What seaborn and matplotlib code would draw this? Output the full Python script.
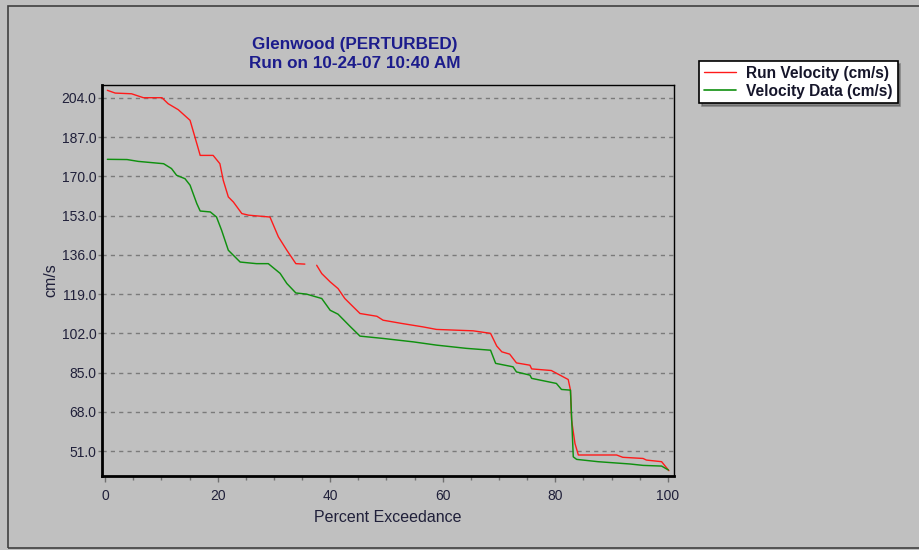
import numpy as np
import pandas as pd
import matplotlib
matplotlib.use("Agg")
import matplotlib.pyplot as plt
from matplotlib.lines import Line2D
from matplotlib.patches import Rectangle
from matplotlib.ticker import MultipleLocator, FormatStrFormatter
import seaborn as sns

title_lines = ["Glenwood (PERTURBED)", "Run on 10-24-07 10:40 AM"]
series_names = ["Run Velocity (cm/s)", "Velocity Data (cm/s)"]
x_label = "Percent Exceedance"
y_label = "cm/s"
y_ticks = [51.0, 68.0, 85.0, 102.0, 119.0, 136.0, 153.0, 170.0, 187.0, 204.0]
x_ticks = [0, 20, 40, 60, 80, 100]

run_x = [0.4, 1.8, 4.7, 6.8, 10.1, 11.2, 13.0, 15.1, 16.3, 16.9, 19.2, 20.4, 21.0, 21.9,
         22.8, 24.3, 25.5, 29.3, 30.8, 32.3, 33.9, 35.5, np.nan, 37.6, 38.5, 40.0, 41.4,
         42.6, 43.8, 45.3, 48.3, 49.4, 52.7, 56.5, 58.9, 65.4, 68.5, 69.6, 70.5, 71.9,
         73.1, 75.5, 75.8, 79.3, 82.3, 82.7, 82.9, 83.5, 84.1, 90.9, 92.0, 95.6, 96.2,
         98.9, 100.2]
run_y = [207.3, 206.1, 205.8, 204.1, 204.1, 201.5, 198.9, 194.3, 184.2, 179.1, 179.1,
         175.5, 168.3, 161.1, 158.9, 153.9, 153.2, 152.4, 143.8, 138.0, 132.2, 132.0,
         np.nan, 131.5, 127.9, 124.3, 121.4, 117.1, 114.2, 110.6, 109.4, 107.7, 106.3,
         104.8, 103.7, 103.1, 102.0, 96.5, 94.0, 93.0, 89.2, 88.2, 86.6, 85.9, 82.0,
         77.4, 64.4, 54.3, 49.3, 49.3, 48.3, 47.8, 47.1, 46.4, 42.5]

data_x = [0.4, 3.9, 5.9, 10.4, 11.8, 12.7, 14.2, 15.1, 16.3, 16.9, 18.7, 19.8, 20.7, 21.9,
          24.0, 26.9, 29.0, 31.1, 32.3, 33.9, 35.8, 38.5, 40.0, 41.4, 43.5, 45.3, 49.4,
          54.8, 58.9, 64.2, 68.5, 69.4, 72.5, 73.1, 75.5, 75.8, 80.2, 81.1, 82.7, 83.2,
          83.8, 87.6, 93.3, 95.6, 98.9, 100.1]
data_y = [177.4, 177.3, 176.5, 175.5, 173.4, 170.5, 169.0, 166.2, 158.2, 155.0, 154.6,
          152.4, 146.7, 138.0, 132.9, 132.2, 132.2, 128.0, 123.6, 119.5, 119.0, 117.1,
          112.0, 110.3, 105.1, 100.8, 99.8, 98.3, 96.9, 95.5, 94.7, 89.0, 87.5, 85.3,
          83.9, 82.5, 80.3, 77.7, 77.4, 48.5, 47.4, 46.4, 45.4, 44.8, 44.5, 42.8]

RED = "#ff1a1a"
GREEN = "#0f900f"
BG = "#c0c0c0"
TXT = "#20203a"

sns.set_theme(style="white")
plt.rcParams["font.family"] = ["Liberation Sans", "DejaVu Sans"]

fig = plt.figure(figsize=(9.2, 5.5), dpi=100, facecolor=BG)
ax = fig.add_axes([102 / 920, 1 - 476 / 550, (674 - 102) / 920, (476 - 85) / 550])
ax.set_facecolor(BG)

# red series split at the gap
rx = np.array(run_x, dtype=float)
ry = np.array(run_y, dtype=float)
seg_id = np.cumsum(np.isnan(rx))
run_df = pd.DataFrame({"x": rx, "y": ry, "seg": seg_id}).dropna()
for s, sub in run_df.groupby("seg"):
    sns.lineplot(data=sub, x="x", y="y", ax=ax, color=RED, lw=1.0, sort=False,
                 estimator=None)
green_df = pd.DataFrame({"x": data_x, "y": data_y})
sns.lineplot(data=green_df, x="x", y="y", ax=ax, color=GREEN, lw=1.05, sort=False,
             estimator=None)

ax.set_xlim(-0.55, 101.1)
ax.set_ylim(40.2, 209.6)
ax.set_xticks(x_ticks)
ax.xaxis.set_minor_locator(MultipleLocator(5))
ax.set_yticks(y_ticks)
ax.yaxis.set_major_formatter(FormatStrFormatter("%.1f"))
ax.yaxis.grid(True, linestyle=(0, (3, 3)), color="#7a7a7a", lw=1.0)
ax.xaxis.grid(False)
ax.set_axisbelow(True)

for side in ["left", "bottom", "top", "right"]:
    ax.spines[side].set_color("black")
ax.spines["left"].set_linewidth(2.0)
ax.spines["bottom"].set_linewidth(2.0)
ax.spines["top"].set_linewidth(1.0)
ax.spines["right"].set_linewidth(1.0)

ax.tick_params(axis="x", which="major", direction="out", length=4, width=1,
               color="#707070", labelsize=10, labelcolor=TXT, pad=5, bottom=True)
ax.tick_params(axis="x", which="minor", direction="out", length=3, width=1,
               color="#707070", bottom=True)
ax.tick_params(axis="y", which="major", direction="out", length=3, width=1,
               color="#707070", labelsize=10, labelcolor=TXT, pad=1, left=True)

ax.set_xlabel(x_label, fontsize=11.5, color=TXT)
ax.set_ylabel(y_label, fontsize=11.5, color=TXT)
ax.xaxis.set_label_coords((388 - 102) / 572, (476 - 517) / 391)
ax.yaxis.set_label_coords((51 - 102) / 572, 0.5)
ax.xaxis.label.set_va("center")
ax.yaxis.label.set_va("center")

fig.text(355 / 920, 1 - 44 / 550, title_lines[0], ha="center", va="center",
         fontsize=12.3, fontweight="bold", color="#1c1c8c")
fig.text(355 / 920, 1 - 64 / 550, title_lines[1], ha="center", va="center",
         fontsize=12.3, fontweight="bold", color="#1c1c8c")

handles = [Line2D([], [], color=RED, lw=1.0), Line2D([], [], color=GREEN, lw=1.2)]
leg = fig.legend(handles, series_names, loc="upper left",
                 bbox_to_anchor=(699 / 920, 1 - 61 / 550), frameon=True,
                 fancybox=False, shadow=True, fontsize=11.2, handlelength=2.1,
                 handletextpad=0.65, borderpad=0.3, labelspacing=0.2,
                 borderaxespad=0)
leg.get_frame().set_edgecolor("black")
leg.get_frame().set_linewidth(1.2)
leg.get_frame().set_facecolor("white")
for t in leg.get_texts():
    t.set_fontweight("bold")
    t.set_color("#15152a")

# outer frame
fig.patches.append(Rectangle((8 / 920, 2 / 550), 915 / 920, 542 / 550,
                             transform=fig.transFigure, fill=False,
                             edgecolor="#404040", lw=1.2, zorder=0))

fig.savefig("out.png", dpi=100, facecolor=BG)
